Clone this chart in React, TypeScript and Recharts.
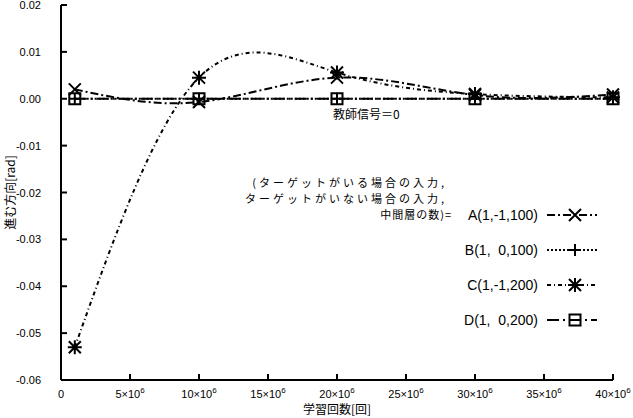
import React from 'react';
import { LineChart, Line, XAxis, YAxis, Legend, ReferenceDot } from 'recharts';

// training steps and the four curves
const steps = [1e6, 10e6, 20e6, 30e6, 40e6];
const seriesA = [0.002, -0.0007, 0.0045, 0.0008, 0.0009];
const seriesB = [0, 0, 0, 0, 0];
const seriesC = [-0.053, 0.0045, 0.0056, 0.001, 0.0003];
const seriesD = [0, 0, 0, 0, 0];

const xTicks = [0, 5e6, 10e6, 15e6, 20e6, 25e6, 30e6, 35e6, 40e6];
const yTicks = [-0.06, -0.05, -0.04, -0.03, -0.02, -0.01, 0, 0.01, 0.02];

const legendHeader = ['(ターゲットがいる場合の入力,', 'ターゲットがいない場合の入力,', '中間層の数)='];
const legendNames = ['A(1,-1,100)', 'B(1,  0,100)', 'C(1,-1,200)', 'D(1,  0,200)'];
const teacherLabel = '教師信号＝0';
const xTitle = '学習回数[回]';
const yTitle = '進む方向[rad]';

const data = steps.map((s, i) => ({
  step: s,
  a: seriesA[i],
  b: seriesB[i],
  c: seriesC[i],
  d: seriesD[i],
}));

const SANS = '"Liberation Sans", Arial, sans-serif';
const JP = '"Noto Sans CJK JP", sans-serif';

type MarkKind = 'x' | 'plus' | 'star' | 'box';

const markPath = (kind: MarkKind, cx: number, cy: number) => {
  const r = 6;
  switch (kind) {
    case 'x':
      return `M${cx - r},${cy - r}L${cx + r},${cy + r}M${cx - r},${cy + r}L${cx + r},${cy - r}`;
    case 'plus':
      return `M${cx - r},${cy}L${cx + r},${cy}M${cx},${cy - r}L${cx},${cy + r}`;
    case 'star':
      return `M${cx - r},${cy - r}L${cx + r},${cy + r}M${cx - r},${cy + r}L${cx + r},${cy - r}` +
        `M${cx - r - 1},${cy}L${cx + r + 1},${cy}M${cx},${cy - r - 1}L${cx},${cy + r + 1}`;
    case 'box':
      return `M${cx - 5.5},${cy - 5.5}h11v11h-11z`;
  }
};

const Mark = ({ kind, cx, cy }: { kind: MarkKind; cx: number; cy: number }) => (
  <path d={markPath(kind, cx, cy)} stroke="#000" strokeWidth={2} fill="none" />
);

const series = [
  { key: 'a', kind: 'x' as MarkKind, dash: '8 3 2 3' },
  { key: 'b', kind: 'plus' as MarkKind, dash: '2 2' },
  { key: 'c', kind: 'star' as MarkKind, dash: '4 3 1 3' },
  { key: 'd', kind: 'box' as MarkKind, dash: '12 4 2 4' },
];

const XTick = (props: any) => {
  const { x, y, payload } = props;
  const v = payload.value;
  if (v === 0) {
    return (
      <text x={x} y={y + 10} textAnchor="middle" fontSize={11} fontFamily={SANS} fill="#000">0</text>
    );
  }
  return (
    <text x={x} y={y + 10} textAnchor="middle" fontSize={11} fontFamily={SANS} fill="#000">
      {`${v / 1e6}×10`}
      <tspan fontSize={8} dy={-5}>6</tspan>
    </text>
  );
};

const YTick = (props: any) => {
  const { x, y, payload } = props;
  return (
    <text x={x} y={y + 4} textAnchor="end" fontSize={11} fontFamily={SANS} fill="#000">
      {payload.value.toFixed(2)}
    </text>
  );
};

const NoTick = () => <g />;

const LegendBox = () => (
  <svg width={633} height={418} style={{ position: 'absolute', left: 0, top: 0 }}>
    {legendHeader.map((t, i) => (
      <text key={t} x={i < 2 ? 447 : 452} y={187 + i * 16} textAnchor="end" fontSize={11}
        letterSpacing={i < 2 ? 3 : 1} fontFamily={JP} fill="#000">
        {t}
      </text>
    ))}
    {series.map((s, i) => {
      const cy = 215 + i * 35;
      return (
        <g key={s.key}>
          <text x={538} y={cy + 5} textAnchor="end" fontSize={14} fontFamily={SANS} fill="#000"
            style={{ whiteSpace: 'pre' }}>
            {legendNames[i]}
          </text>
          <line x1={547} x2={597} y1={cy} y2={cy} stroke="#000" strokeWidth={2} strokeDasharray={s.dash} />
          <Mark kind={s.kind} cx={575} cy={cy} />
        </g>
      );
    })}
  </svg>
);

export default function App() {
  return (
    <div style={{ position: 'absolute', left: 0, top: 0, width: 633, height: 418, background: '#fff' }}>
      <LineChart width={633} height={418} data={data} margin={{ top: 5, right: 20, bottom: 0, left: 0 }}>
        <XAxis
          type="number"
          dataKey="step"
          domain={[0, 40e6]}
          ticks={xTicks}
          interval={0}
          height={38}
          tickSize={-6}
          tickMargin={14}
          tick={<XTick />}
          axisLine={{ stroke: '#000', strokeWidth: 2 }}
          tickLine={{ stroke: '#000', strokeWidth: 2 }}
          label={{
            content: (p: any) => {
              const vb = p.viewBox;
              return (
                <text x={vb.x + vb.width / 2} y={vb.y + 34} textAnchor="middle" fontSize={12} fontFamily={JP} fill="#000">
                  {xTitle}
                </text>
              );
            },
          }}
        />
        <XAxis
          xAxisId="top"
          orientation="top"
          type="number"
          domain={[0, 40e6]}
          ticks={xTicks}
          interval={0}
          height={0}
          tickSize={-6}
          tick={<NoTick />}
          axisLine={{ stroke: '#000', strokeWidth: 2 }}
          tickLine={{ stroke: '#000', strokeWidth: 2 }}
        />
        <YAxis
          type="number"
          domain={[-0.06, 0.02]}
          ticks={yTicks}
          interval={0}
          width={61}
          tickSize={-6}
          tickMargin={26}
          tick={<YTick />}
          axisLine={{ stroke: '#000', strokeWidth: 2 }}
          tickLine={{ stroke: '#000', strokeWidth: 2 }}
          label={{
            content: (p: any) => {
              const vb = p.viewBox;
              const cx = 9;
              const cy = vb.y + vb.height / 2;
              return (
                <text x={cx} y={cy} transform={`rotate(-90 ${cx} ${cy})`} textAnchor="middle" dominantBaseline="central" fontSize={12} fontFamily={JP} fill="#000">
                  {yTitle}
                </text>
              );
            },
          }}
        />
        <YAxis
          yAxisId="right"
          orientation="right"
          type="number"
          domain={[-0.06, 0.02]}
          ticks={yTicks}
          interval={0}
          width={0}
          tickSize={-6}
          tick={<NoTick />}
          axisLine={{ stroke: '#000', strokeWidth: 2 }}
          tickLine={{ stroke: '#000', strokeWidth: 2 }}
        />
        {series.map((s) => (
          <Line
            key={s.key}
            type="natural"
            dataKey={s.key}
            stroke="#000"
            strokeWidth={2}
            strokeDasharray={s.dash}
            isAnimationActive={false}
            activeDot={false}
            dot={(p: any) => <Mark key={`${s.key}-${p.index}`} kind={s.kind} cx={p.cx} cy={p.cy} />}
          />
        ))}
        <ReferenceDot
          x={20e6}
          y={0}
          r={0}
          fill="none"
          stroke="none"
          label={{
            content: (p: any) => {
              const vb = p.viewBox;
              return (
                <text x={vb.x - 4} y={vb.y + 20} fontSize={12} fontFamily={JP} fill="#000">
                  {teacherLabel}
                </text>
              );
            },
          }}
        />
        <Legend
          layout="vertical"
          align="center"
          verticalAlign="middle"
          wrapperStyle={{ left: 0, top: 0, width: 633, height: 418, pointerEvents: 'none' }}
          content={() => <LegendBox />}
        />
      </LineChart>
    </div>
  );
}
